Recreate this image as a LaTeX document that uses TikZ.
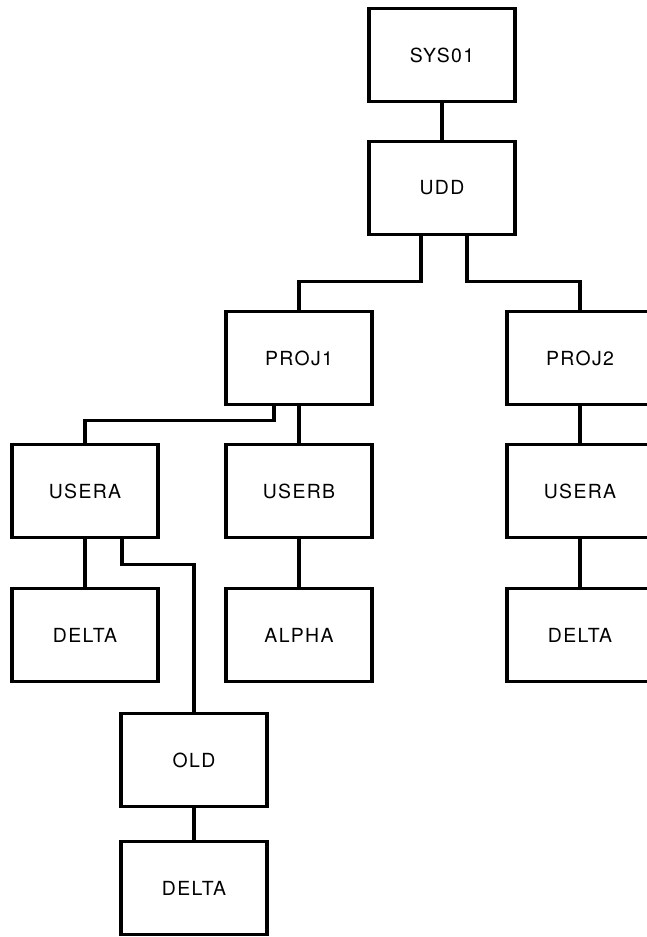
\documentclass[tikz,border=0pt]{standalone}
\usepackage{fontspec}
\setmainfont{TeX Gyre Heros}[LetterSpace=7]
\begin{document}
\begin{tikzpicture}[node distance=133bp,
	box/.style={draw, rectangle, line width=3.2bp, minimum width=146bp, minimum height=93bp, font=\fontsize{19.5}{22}\selectfont},
	link/.style={line width=3.2bp}]
		\useasboundingbox (0,0) rectangle (647bp,-937bp);
		% Nodes
		\node[box] (sys) at (442bp,-55bp) {SYS01};
		\node[box, below of=sys] (udd) {UDD};
		\node[box, below of=udd, xshift=-143bp, yshift=-37bp] (proj1) {PROJ1};
		\node[box, below of=udd, xshift=138bp, yshift=-37bp] (proj2) {PROJ2};
		\node[box, below of=proj1, xshift=-214bp] (usera) {USERA};
		\node[box, below of=proj1] (userb) {USERB};
		\node[box, below of=proj2] (useratwo) {USERA};
		\node[box, below of=usera, yshift=-11bp] (deltaa) {DELTA};
		\node[box, below of=userb, yshift=-11bp] (alpha) {ALPHA};
		\node[box, below of=useratwo, yshift=-11bp] (deltatwo) {DELTA};
		\node[box, below of=deltaa, xshift=109bp, yshift=8bp] (old) {OLD};
		\node[box, below of=old, yshift=5bp] (deltaold) {DELTA};

		% Connectors
		\draw[link] (sys) -- (udd);
		\draw[link] ([xshift=-21bp]udd.south) -- ++(0,-45bp) -| (proj1.north);
		\draw[link] ([xshift=25bp]udd.south) -- ++(0,-45bp) -| (proj2.north);
		\draw[link] ([xshift=-25bp]proj1.south) -- ++(0,-14bp) -| (usera.north);
		\draw[link] (proj1) -- (userb);
		\draw[link] (proj2) -- (useratwo);
		\draw[link] (usera) -- (deltaa);
		\draw[link] ([xshift=37bp]usera.south) -- ++(0,-25bp) -| (old.north);
		\draw[link] (userb) -- (alpha);
		\draw[link] (useratwo) -- (deltatwo);
		\draw[link] (old) -- (deltaold);
	\end{tikzpicture}
\end{document}
